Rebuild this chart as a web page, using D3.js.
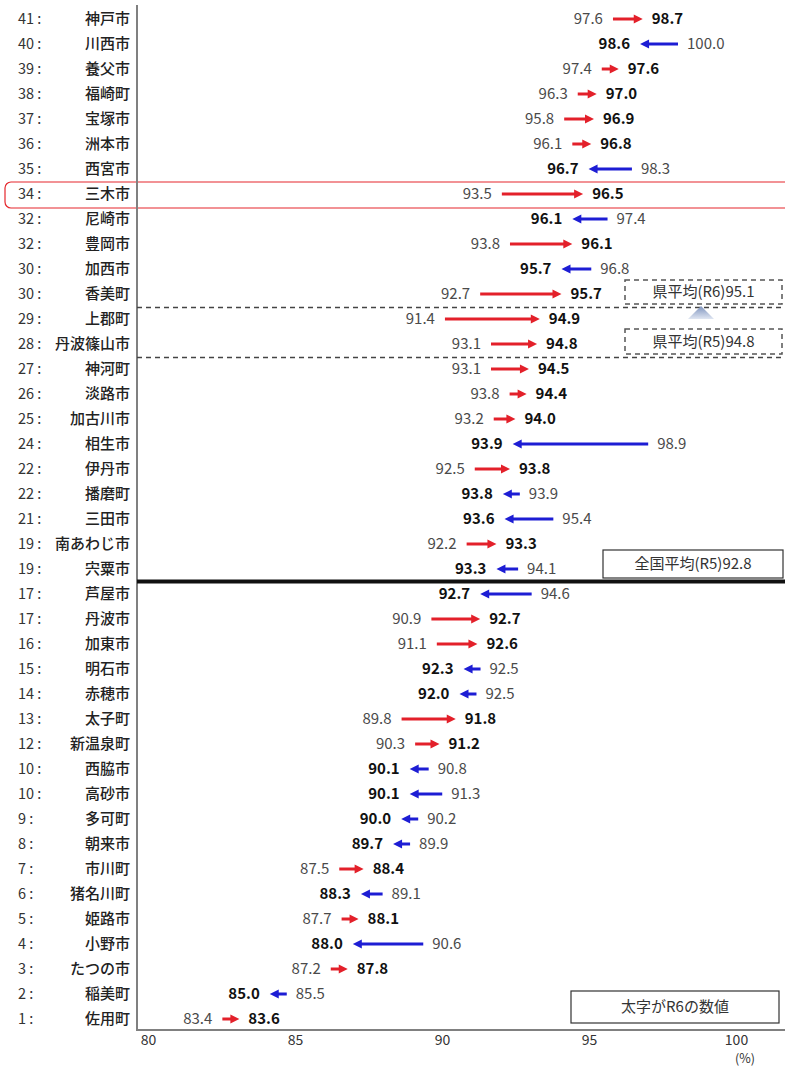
<!DOCTYPE html>
<html><head><meta charset="utf-8">
<script src="https://cdn.jsdelivr.net/npm/d3@7"></script>
<style>body{margin:0;background:#fff}</style>
</head><body>
<svg id="c" width="785" height="1068"></svg>
<script>
// ---- data (top row first) ----
const ranks = [41,40,39,38,37,36,35,34,32,32,30,30,29,28,27,26,25,24,22,22,21,19,19,17,17,16,15,14,13,12,10,10,9,8,7,6,5,4,3,2,1];
const names = ["神戸市","川西市","養父市","福崎町","宝塚市","洲本市","西宮市","三木市","尼崎市","豊岡市","加西市","香美町","上郡町","丹波篠山市","神河町","淡路市","加古川市","相生市","伊丹市","播磨町","三田市","南あわじ市","宍粟市","芦屋市","丹波市","加東市","明石市","赤穂市","太子町","新温泉町","西脇市","高砂市","多可町","朝来市","市川町","猪名川町","姫路市","小野市","たつの市","稲美町","佐用町"];
const r5 = [97.6,100.0,97.4,96.3,95.8,96.1,98.3,93.5,97.4,93.8,96.8,92.7,91.4,93.1,93.1,93.8,93.2,98.9,92.5,93.9,95.4,92.2,94.1,94.6,90.9,91.1,92.5,92.5,89.8,90.3,90.8,91.3,90.2,89.9,87.5,89.1,87.7,90.6,87.2,85.5,83.4];
const r6 = [98.7,98.6,97.6,97.0,96.9,96.8,96.7,96.5,96.1,96.1,95.7,95.7,94.9,94.8,94.5,94.4,94.0,93.9,93.8,93.8,93.6,93.3,93.3,92.7,92.7,92.6,92.3,92.0,91.8,91.2,90.1,90.1,90.0,89.7,88.4,88.3,88.1,88.0,87.8,85.0,83.6];
const tickValues = [80,85,90,95,100];
const prefR6 = 95.1, prefR5 = 94.8, natR5 = 92.8;
const highlightName = "三木市";
const notes = {pref6: "県平均(R6)", pref5: "県平均(R5)", nat5: "全国平均(R5)", legend: "太字がR6の数値"};

// ---- layout ----
const W = 785, H = 1068;
const plotL = 137, plotB = 1030, plotT = 5;
const svg = d3.select("#c");
const FONT = "'Noto Sans CJK JP', 'Noto Sans', sans-serif";
const RED = "#e3202a", BLUE = "#1d1dd4";

const idx = d3.range(names.length);
const y = d3.scalePoint().domain(idx).range([19, 1019]);
const xm = d3.scaleLinear().domain([80, 100]).range([136, 678]);   // marks
const xt = d3.scaleLinear().domain([80, 100]).range([148, 736]);   // tick labels

// highlight rounded box
const hi = names.indexOf(highlightName);
svg.append("rect").attr("x", 5).attr("y", y(hi) - 12).attr("width", 800).attr("height", 26)
  .attr("rx", 6).attr("fill", "none").attr("stroke", "#e5262c").attr("stroke-width", 1.2);

// row labels
const rows = svg.append("g").attr("font-family", FONT).attr("fill", "#222");
rows.selectAll("text.rank").data(idx).join("text").attr("class", "rank")
  .attr("x", 18).attr("y", i => y(i)).attr("dy", "0.35em")
  .attr("font-size", 14.5).attr("fill", "#333").text(i => ranks[i] + " :");
rows.selectAll("text.name").data(idx).join("text").attr("class", "name")
  .attr("x", 130).attr("y", i => y(i)).attr("dy", "0.36em").attr("text-anchor", "end")
  .attr("font-size", 15).attr("font-weight", 500).text(i => names[i]);

// axes frame
svg.append("line").attr("x1", plotL).attr("x2", plotL).attr("y1", plotT).attr("y2", plotB + 1)
  .attr("stroke", "#808080").attr("stroke-width", 2);
svg.append("line").attr("x1", plotL).attr("x2", W).attr("y1", plotB).attr("y2", plotB)
  .attr("stroke", "#808080").attr("stroke-width", 2);

const ax = svg.append("g").attr("transform", `translate(0,${plotB})`)
  .call(d3.axisBottom(xt).tickValues(tickValues).tickSize(0).tickPadding(5).tickFormat(d3.format("d")));
ax.select(".domain").remove();
ax.selectAll("text").attr("font-family", FONT).attr("font-size", 14).attr("fill", "#333");
svg.append("text").attr("x", 745).attr("y", 1059).attr("dy", "0.35em").attr("text-anchor", "middle")
  .attr("font-family", FONT).attr("font-size", 12.5).attr("fill", "#333").text("(%)");

// separator lines between rows
const prefIdx = idx.filter(i => r6[i] >= prefR6).length;
const pref5Idx = idx.filter(i => r6[i] >= prefR5).length;
const natIdx = idx.filter(i => r6[i] > natR5).length;
const midY = k => (y(k - 1) + y(k)) / 2;
[prefIdx, pref5Idx].forEach(k => {
  svg.append("line").attr("x1", plotL).attr("x2", W).attr("y1", midY(k) + 1).attr("y2", midY(k) + 1)
    .attr("stroke", "#444").attr("stroke-width", 1.6).attr("stroke-dasharray", "5,4");
});
svg.append("line").attr("x1", plotL).attr("x2", W).attr("y1", midY(natIdx)).attr("y2", midY(natIdx))
  .attr("stroke", "#111").attr("stroke-width", 4);

// annotation boxes
function box(x0, y0, w, h, dashed, label) {
  svg.append("rect").attr("x", x0).attr("y", y0).attr("width", w).attr("height", h)
    .attr("fill", "#fff").attr("stroke", dashed ? "#555" : "#333").attr("stroke-width", dashed ? 1.5 : 1.2)
    .attr("stroke-dasharray", dashed ? "5,4" : null);
  svg.append("text").attr("x", x0 + w / 2).attr("y", y0 + h / 2).attr("dy", "0.36em")
    .attr("text-anchor", "middle").attr("font-family", FONT).attr("font-size", 15).attr("fill", "#333")
    .text(label);
}
box(625, 280, 157, 24, true, notes.pref6 + prefR6.toFixed(1));
box(625, 329, 157, 25, true, notes.pref5 + prefR5.toFixed(1));
box(603, 550, 180, 28, false, notes.nat5 + natR5.toFixed(1));
box(571, 991, 208, 32, false, notes.legend);
// small up arrow between pref boxes
const g0 = svg.append("defs").append("linearGradient").attr("id", "ug").attr("x1", 0).attr("x2", 0).attr("y1", 0).attr("y2", 1);
g0.append("stop").attr("offset", 0).attr("stop-color", "#7d92bd");
g0.append("stop").attr("offset", 1).attr("stop-color", "#dfe6f2");
svg.append("path").attr("d", "M688,319 L701,306 L714,319 Z").attr("fill", "url(#ug)");

// arrows
const MINLEN = 17, HEAD = 9, HW = 4.5;
const ag = svg.append("g");
idx.forEach(i => {
  let a = xm(r5[i]), b = xm(r6[i]);
  const up = r6[i] >= r5[i];
  const dir = up ? 1 : -1;
  if (Math.abs(b - a) < MINLEN) { const m = (a + b) / 2; a = m - dir * MINLEN / 2; b = m + dir * MINLEN / 2; }
  const yy = y(i), col = up ? RED : BLUE;
  ag.append("line").attr("x1", a).attr("x2", b - dir * (HEAD - 1)).attr("y1", yy).attr("y2", yy)
    .attr("stroke", col).attr("stroke-width", 3);
  ag.append("path").attr("d", `M${b},${yy} L${b - dir * HEAD},${yy - HW} L${b - dir * HEAD},${yy + HW} Z`).attr("fill", col);
  const left = Math.min(a, b), right = Math.max(a, b);
  const lv = up ? r5[i] : r6[i], rv = up ? r6[i] : r5[i];
  ag.append("text").attr("x", left - 10).attr("y", yy).attr("dy", "0.36em").attr("text-anchor", "end")
    .attr("font-family", FONT).attr("font-size", 15)
    .attr("font-weight", up ? 400 : 700).attr("fill", up ? "#4a4a4a" : "#111").text(lv.toFixed(1));
  ag.append("text").attr("x", right + 9).attr("y", yy).attr("dy", "0.36em").attr("text-anchor", "start")
    .attr("font-family", FONT).attr("font-size", 15)
    .attr("font-weight", up ? 700 : 400).attr("fill", up ? "#111" : "#4a4a4a").text(rv.toFixed(1));
});
</script>
</body></html>
